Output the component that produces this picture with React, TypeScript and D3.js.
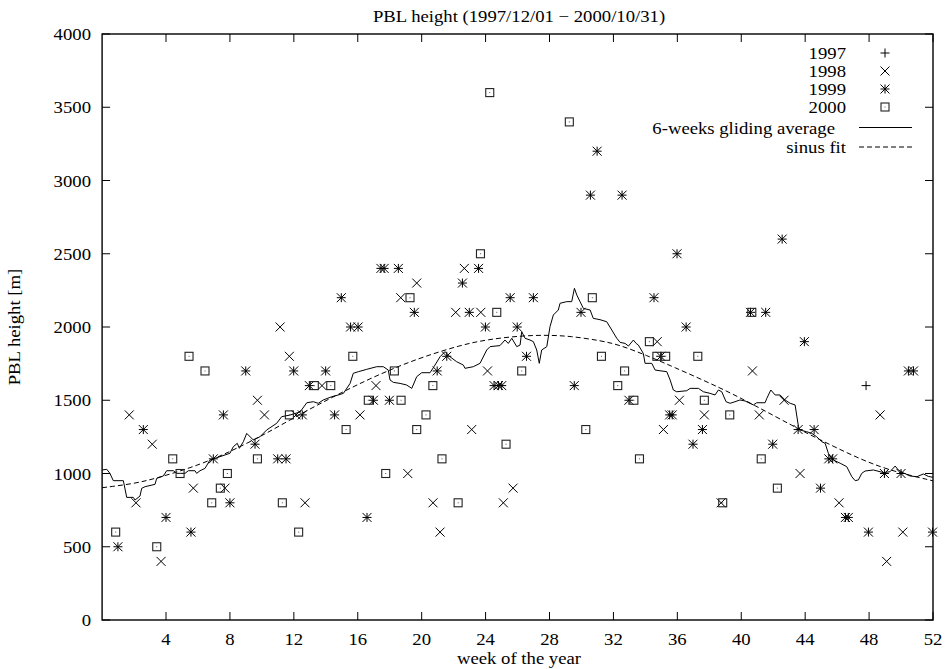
import React from 'react';
import * as d3 from 'd3';

// ---------- data ----------
const xTickValues = [4, 8, 12, 16, 20, 24, 28, 32, 36, 40, 44, 48, 52];
const yTickValues = [0, 500, 1000, 1500, 2000, 2500, 3000, 3500, 4000];

const weeks1997 = [47.81];
const pbl1997 = [1600];

const weeks1998 = [1.70, 2.12, 3.14, 3.69, 5.71, 7.69, 9.72, 10.16, 11.14, 11.72, 12.14, 12.70, 13.76, 16.14, 17.14, 18.69, 19.13, 19.69, 20.71, 21.15, 22.13, 22.67, 23.13, 23.70, 24.12, 25.11, 25.72, 34.74, 35.13, 36.13, 37.69, 38.74, 40.70, 41.13, 42.68, 43.68, 46.12, 48.69, 49.10, 50.11];
const pbl1998 = [1400, 800, 1200, 400, 900, 900, 1500, 1400, 2000, 1800, 1400, 800, 1600, 1400, 1600, 2200, 1000, 2300, 800, 600, 2100, 2400, 1300, 2100, 1700, 800, 900, 1900, 1300, 1500, 1400, 800, 1700, 1400, 1500, 1000, 800, 1400, 400, 600];

const weeks1999 = [0.99, 2.58, 4.00, 5.56, 6.96, 7.59, 8.00, 8.99, 9.57, 10.99, 11.51, 11.99, 12.53, 12.97, 13.99, 14.55, 14.97, 15.55, 16.02, 16.58, 16.98, 17.45, 17.65, 17.98, 18.54, 19.54, 20.97, 21.57, 22.55, 22.98, 23.56, 23.99, 24.53, 24.80, 25.01, 25.54, 25.98, 26.56, 26.99, 29.55, 29.97, 30.56, 30.98, 32.54, 32.97, 34.54, 34.96, 35.52, 35.68, 35.98, 36.55, 36.98, 37.57, 40.58, 41.53, 41.97, 42.56, 43.56, 43.95, 44.56, 44.96, 45.48, 45.72, 46.52, 46.70, 47.96, 48.96, 50.00, 50.46, 50.78, 51.97];
const pbl1999 = [500, 1300, 700, 600, 1100, 1400, 800, 1700, 1200, 1100, 1100, 1700, 1400, 1600, 1700, 1400, 2200, 2000, 2000, 700, 1500, 2400, 2400, 1500, 2400, 2100, 1700, 1800, 2300, 2100, 2400, 2000, 1600, 1600, 1600, 2200, 2000, 1800, 2200, 1600, 2100, 2900, 3200, 2900, 1500, 2200, 1800, 1400, 1400, 2500, 2000, 1200, 1300, 2100, 2100, 1200, 2600, 1300, 1900, 1300, 900, 1100, 1100, 700, 700, 600, 1000, 1000, 1700, 1700, 600];

const weeks2000 = [0.85, 3.42, 4.42, 4.88, 5.44, 6.44, 6.86, 7.40, 7.84, 9.72, 11.28, 11.72, 12.30, 13.28, 14.31, 15.27, 15.69, 16.66, 17.75, 18.29, 18.71, 19.27, 19.69, 20.27, 20.70, 21.27, 22.28, 23.68, 24.26, 24.70, 25.28, 26.26, 29.24, 30.27, 30.68, 31.25, 32.27, 32.70, 33.28, 33.63, 34.25, 34.72, 35.27, 37.28, 37.69, 38.84, 39.28, 40.66, 41.25, 42.26];
const pbl2000 = [600, 500, 1100, 1000, 1800, 1700, 800, 900, 1000, 1100, 800, 1400, 600, 1600, 1600, 1300, 1800, 1500, 1000, 1700, 1500, 2200, 1300, 1400, 1600, 1100, 800, 2500, 3600, 2100, 1200, 1700, 3400, 1300, 2200, 1800, 1600, 1700, 1500, 1100, 1900, 1800, 1800, 1800, 1500, 800, 1400, 2100, 1100, 900];

// 6-weeks gliding average
const avgWeeks = [0.01, 0.29, 0.49, 0.70, 1.33, 1.54, 1.95, 2.06, 2.37, 2.48, 2.69, 3.31, 3.42, 3.83, 4.04, 4.46, 4.67, 5.19, 5.40, 5.81, 5.92, 6.13, 6.44, 6.75, 7.38, 8.00, 8.21, 8.46, 8.59, 8.84, 9.05, 9.46, 9.88, 10.30, 10.93, 11.24, 11.76, 12.39, 12.81, 13.22, 13.53, 13.84, 14.37, 14.78, 15.10, 15.52, 15.72, 16.04, 16.56, 17.19, 17.60, 17.91, 18.02, 18.23, 18.65, 19.06, 19.38, 19.69, 20.00, 20.52, 20.77, 21.15, 21.46, 21.77, 22.19, 22.61, 22.71, 23.23, 23.65, 24.07, 24.28, 24.90, 25.21, 25.42, 25.64, 25.95, 26.16, 26.26, 26.47, 26.78, 26.99, 27.20, 27.36, 27.51, 27.83, 28.03, 28.24, 28.55, 28.66, 29.08, 29.39, 29.56, 29.71, 29.91, 30.12, 30.54, 30.74, 31.16, 31.58, 31.90, 32.21, 32.42, 32.73, 32.94, 33.25, 33.42, 33.56, 33.87, 33.98, 34.40, 34.61, 35.34, 35.55, 35.75, 35.96, 36.59, 36.80, 37.32, 37.63, 38.05, 38.36, 38.57, 38.78, 39.05, 39.30, 39.61, 39.92, 40.24, 40.76, 40.97, 41.49, 41.60, 41.85, 42.12, 42.43, 42.74, 43.06, 43.37, 43.58, 43.68, 44.10, 44.41, 44.72, 45.04, 45.25, 45.45, 45.77, 46.19, 46.60, 46.92, 47.13, 47.33, 47.54, 47.75, 48.27, 48.90, 49.31, 49.63, 49.83, 50.11, 50.57, 50.99, 51.40, 51.71, 52.00];
const avgValues = [1024, 1029, 1001, 951, 951, 837, 837, 819, 846, 899, 910, 926, 967, 983, 1019, 1019, 1001, 1001, 1019, 1019, 1001, 1019, 1035, 1092, 1115, 1138, 1183, 1206, 1172, 1217, 1274, 1229, 1251, 1297, 1343, 1388, 1399, 1420, 1483, 1490, 1479, 1502, 1524, 1536, 1547, 1615, 1684, 1695, 1711, 1729, 1729, 1706, 1638, 1622, 1615, 1604, 1581, 1661, 1688, 1688, 1729, 1797, 1832, 1797, 1763, 1740, 1718, 1729, 1752, 1843, 1866, 1873, 1911, 1888, 1923, 1866, 1877, 1968, 1923, 1911, 1900, 1843, 1752, 1843, 1866, 2002, 2082, 2116, 2162, 2173, 2173, 2264, 2218, 2173, 2127, 2116, 2059, 2050, 2036, 1979, 1923, 1895, 1888, 1870, 1911, 1888, 1877, 1820, 1752, 1752, 1706, 1695, 1638, 1570, 1558, 1565, 1581, 1581, 1558, 1547, 1536, 1570, 1558, 1490, 1479, 1490, 1502, 1495, 1468, 1483, 1483, 1513, 1570, 1536, 1536, 1502, 1479, 1468, 1320, 1297, 1285, 1274, 1251, 1217, 1206, 1138, 1092, 1070, 1047, 978, 951, 956, 1001, 1017, 1024, 1006, 1012, 1051, 1024, 1006, 983, 978, 997, 980, 974];

// sinus fit
const fitWeeks = [0, 2, 3.4, 5.3, 7, 8.2, 10.1, 12.3, 14.4, 16.5, 18.5, 20.2, 22.4, 24.1, 26.2, 27.8, 29.3, 31.2, 32.4, 34.1, 35.6, 38.7, 40.8, 43.3, 44.9, 47.0, 49.1, 52];
const fitValues = [903, 930, 968, 1030, 1100, 1160, 1262, 1400, 1520, 1635, 1730, 1800, 1875, 1915, 1940, 1945, 1938, 1907, 1877, 1805, 1735, 1585, 1468, 1320, 1232, 1120, 1025, 950];

const legendLabels = ['1997', '1998', '1999', '2000', '6-weeks gliding average', 'sinus fit'];

// ---------- layout ----------
const W = 947;
const H = 669;
const X0 = 102.1, X1 = 933, Y0 = 620, Y1 = 34;
const FONT = '"Liberation Serif", "Times New Roman", serif';
const FS = 17;
const SX = 1.1; // horizontal stretch of the glyphs, as in the reference
const MS = 4.5; // marker half size

type Kind = 'plus' | 'cross' | 'star' | 'box';

function T({ x, y, anchor, children, rotate }: { x: number; y: number; anchor: 'start' | 'middle' | 'end'; children: React.ReactNode; rotate?: boolean }) {
  const tr = rotate
    ? `translate(${x},${y}) rotate(-90) scale(${SX},1)`
    : `translate(${x},${y}) scale(${SX},1)`;
  return (
    <text transform={tr} fontSize={FS} textAnchor={anchor} fill="#000">{children}</text>
  );
}

function markerPath(kind: Kind, x: number, y: number): string {
  const s = MS;
  const plus = `M${x - s},${y}H${x + s}M${x},${y - s}V${y + s}`;
  const cross = `M${x - s},${y - s}L${x + s},${y + s}M${x - s},${y + s}L${x + s},${y - s}`;
  if (kind === 'plus') return plus;
  if (kind === 'cross') return cross;
  if (kind === 'star') return plus + cross;
  return '';
}

function Marker({ kind, x, y }: { kind: Kind; x: number; y: number }) {
  if (kind === 'box') {
    return (
      <g>
        <rect x={x - MS + 0.5} y={y - MS + 0.5} width={2 * MS - 1} height={2 * MS - 1} fill="none" stroke="#222" strokeWidth={1.1} />
        <rect x={x - 0.5} y={y - 0.5} width={1} height={1} fill="#555" />
      </g>
    );
  }
  return <path d={markerPath(kind, x, y)} stroke="#000" strokeWidth={1} fill="none" />;
}

export default function App() {
  const x = d3.scaleLinear().domain([0, 52]).range([X0, X1]);
  const y = d3.scaleLinear().domain([0, 4000]).range([Y0, Y1]);

  const series: { kind: Kind; w: number[]; v: number[] }[] = [
    { kind: 'plus', w: weeks1997, v: pbl1997 },
    { kind: 'cross', w: weeks1998, v: pbl1998 },
    { kind: 'star', w: weeks1999, v: pbl1999 },
    { kind: 'box', w: weeks2000, v: pbl2000 },
  ];

  const avgLine = d3.line<number>()
    .x((_, i) => x(avgWeeks[i]))
    .y((d) => y(d))
    .curve(d3.curveLinear)(avgValues) || '';

  const fitLine = d3.line<number>()
    .x((_, i) => x(fitWeeks[i]))
    .y((d) => y(d))
    .curve(d3.curveBasis)(fitValues) || '';

  const tickLen = 8;
  const legendRight = 846;
  const legendSymX = 885;
  const legendLineX0 = 859, legendLineX1 = 912;
  const legendRowY = [53, 71, 89, 107, 127.5, 147];
  const legendTextDx = [0, 0, 0, 0, -11, 0];

  return (
    <svg width={W} height={H} style={{ position: 'absolute', left: 0, top: 0, background: '#fff' }} fontFamily={FONT}>
      <rect x={0} y={0} width={W} height={H} fill="#fff" />
      {/* title */}
      <T x={519} y={22} anchor="middle">PBL height (1997/12/01 − 2000/10/31)</T>

      {/* ticks */}
      {yTickValues.map((t) => (
        <g key={'y' + t}>
          <line x1={X0} x2={X0 + tickLen} y1={y(t)} y2={y(t)} stroke="#000" strokeWidth={1} />
          <line x1={X1} x2={X1 - tickLen} y1={y(t)} y2={y(t)} stroke="#000" strokeWidth={1} />
          <T x={91} y={y(t) + 6} anchor="end">{t}</T>
        </g>
      ))}
      {xTickValues.map((t) => (
        <g key={'x' + t}>
          <line x1={x(t)} x2={x(t)} y1={Y0} y2={Y0 - tickLen} stroke="#000" strokeWidth={1} />
          <line x1={x(t)} x2={x(t)} y1={Y1} y2={Y1 + tickLen} stroke="#000" strokeWidth={1} />
          <T x={x(t)} y={644.5} anchor="middle">{t}</T>
        </g>
      ))}

      {/* axis titles */}
      <T x={519} y={664} anchor="middle">week of the year</T>
      <T x={20} y={327} anchor="middle" rotate>PBL height [m]</T>

      {/* lines */}
      <path d={fitLine} fill="none" stroke="#000" strokeWidth={1} strokeDasharray="5,3" />
      <path d={avgLine} fill="none" stroke="#000" strokeWidth={1} />

      {/* points */}
      {series.map((s) => (
        <g key={s.kind}>
          {s.w.map((w, i) => (
            <Marker key={i} kind={s.kind} x={x(w)} y={y(s.v[i])} />
          ))}
        </g>
      ))}

      {/* legend */}
      {legendLabels.map((lab, i) => (
        <g key={lab}>
          <T x={legendRight + legendTextDx[i]} y={legendRowY[i] + 6} anchor="end">{lab}</T>
          {i < 4 && <Marker kind={series[i].kind} x={legendSymX} y={legendRowY[i]} />}
          {i === 4 && <line x1={legendLineX0} x2={legendLineX1} y1={legendRowY[i]} y2={legendRowY[i]} stroke="#000" strokeWidth={1} />}
          {i === 5 && <line x1={legendLineX0} x2={legendLineX1} y1={legendRowY[i]} y2={legendRowY[i]} stroke="#000" strokeWidth={1} strokeDasharray="5,3" />}
        </g>
      ))}

      {/* frame */}
      <rect x={X0} y={Y1} width={X1 - X0} height={Y0 - Y1} fill="none" stroke="#000" strokeWidth={1.4} />
    </svg>
  );
}
